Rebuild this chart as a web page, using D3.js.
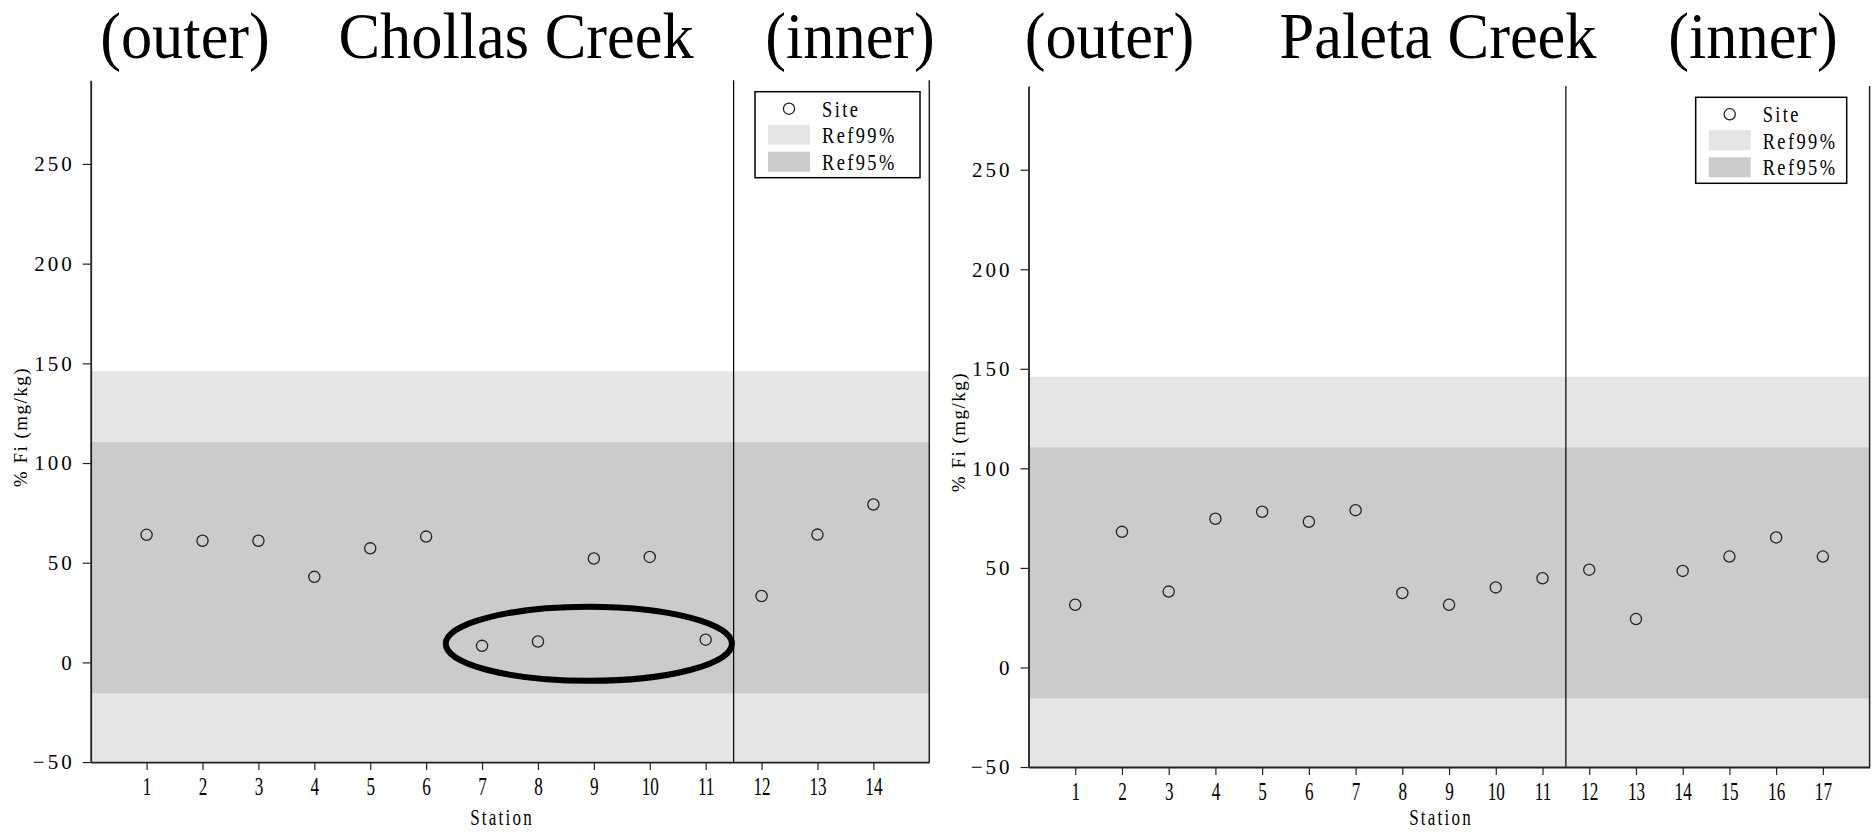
<!DOCTYPE html>
<html>
<head>
<meta charset="utf-8">
<script src="https://cdn.jsdelivr.net/npm/d3@7"></script>
<style>
  body { margin: 0; background: #fff; }
  svg text { font-family: "Liberation Serif", "Times New Roman", serif; fill: #000; }
</style>
</head>
<body>
<div id="chart"></div>
<script>
// ---- data ----
var chollasStations = [1, 2, 3, 4, 5, 6, 7, 8, 9, 10, 11, 12, 13, 14];
var chollasSite = [64.0, 61.0, 61.0, 42.9, 57.2, 63.1, 8.3, 10.5, 52.1, 52.9, 11.4, 33.3, 64.1, 79.2];

var paletaStations = [1, 2, 3, 4, 5, 6, 7, 8, 9, 10, 11, 12, 13, 14, 15, 16, 17];
var paletaSite = [31.5, 68.1, 38.1, 74.7, 78.2, 73.2, 79.0, 37.4, 31.5, 40.2, 44.8, 49.1, 24.3, 48.5, 55.7, 65.3, 55.7];

var ref99 = [-50, 146];      // light band
var ref95 = [-15.5, 110.5];  // dark band
var yTicks = [-50, 0, 50, 100, 150, 200, 250];
var yRange = [-50, 292];
var innerSplit = 11.5;       // outer | inner divider (between stations 11 and 12)
var legendLabels = ["Site", "Ref99%", "Ref95%"];

// circled stations 7, 8, 11 in Chollas Creek
var circledArea = { cx: 8.91, cy: 9.35, rx: 2.56, ry: 18.6 };

var col99 = "#e5e5e5", col95 = "#cbcbcb";

var svg = d3.select("#chart").append("svg")
	.attr("width", 1876)
	.attr("height", 833);

// squeeze text horizontally (the original font is narrow)
function squeeze(sel, sx) {
	sel.attr("transform", function () {
		var t = d3.select(this).attr("transform") || "";
		return t + " scale(" + sx + ",1)";
	});
}

function drawPanel(p) {
	var x = d3.scaleLinear().domain([0, p.xMax]).range([p.left, p.right]);
	var y = d3.scaleLinear().domain(yRange).range([p.bottom, p.top]);
	var g = svg.append("g");

	// bands
	g.append("rect")
		.attr("x", x(0)).attr("width", x(p.xMax) - x(0))
		.attr("y", y(ref99[1])).attr("height", y(ref99[0]) - y(ref99[1]))
		.attr("fill", col99);
	g.append("rect")
		.attr("x", x(0)).attr("width", x(p.xMax) - x(0))
		.attr("y", y(ref95[1])).attr("height", y(ref95[0]) - y(ref95[1]))
		.attr("fill", col95);

	// divider + right border
	g.append("line")
		.attr("x1", x(innerSplit)).attr("x2", x(innerSplit))
		.attr("y1", y(yRange[1])).attr("y2", y(yRange[0]))
		.attr("stroke", "#000").attr("stroke-width", 1.2);
	g.append("line")
		.attr("x1", x(p.xMax)).attr("x2", x(p.xMax))
		.attr("y1", y(yRange[1])).attr("y2", y(yRange[0]))
		.attr("stroke", "#222").attr("stroke-width", 1.5);

	// y axis
	var ya = g.append("g")
		.attr("transform", "translate(" + p.left + ",0)")
		.call(d3.axisLeft(y).tickValues(yTicks).tickSize(8).tickPadding(6).tickSizeOuter(0));
	ya.select(".domain").attr("stroke", "#222").attr("stroke-width", 1.8);
	ya.selectAll(".tick line").attr("stroke", "#222").attr("stroke-width", 1.2);
	ya.selectAll(".tick text")
		.style("font-family", "Liberation Serif")
		.style("font-size", "21px")
		.style("letter-spacing", "3px")
		.attr("x", -16);

	// x axis
	var xa = g.append("g")
		.attr("transform", "translate(0," + p.bottom + ")")
		.call(d3.axisBottom(x).tickValues(p.stations).tickFormat(d3.format("d")).tickSize(8).tickPadding(4).tickSizeOuter(0));
	xa.select(".domain").attr("stroke", "#222").attr("stroke-width", 1.8);
	xa.selectAll(".tick line").attr("stroke", "#222").attr("stroke-width", 1.2);
	xa.selectAll(".tick text")
		.style("font-family", "Liberation Serif")
		.style("font-size", "26px")
		.attr("dy", "0.8em")
		.call(squeeze, 0.66);

	// axis titles
	g.append("text")
		.attr("transform", "translate(" + ((p.left + p.right) / 2 - 8) + "," + Math.min(p.bottom + 64, 825) + ") scale(0.74,1)")
		.attr("text-anchor", "middle")
		.style("font-size", "23px")
		.style("letter-spacing", "3px")
		.text("Station");
	g.append("text")
		.attr("transform", "translate(" + (p.left - 64) + "," + p.ylabelY + ") rotate(-90)")
		.attr("text-anchor", "middle")
		.style("font-size", "19px")
		.style("letter-spacing", "1.5px")
		.text("% Fi (mg/kg)");

	// points
	g.selectAll(".dot")
		.data(p.values)
		.enter().append("circle")
		.attr("class", "dot")
		.attr("cx", function (d, i) { return x(p.stations[i]); })
		.attr("cy", function (d) { return y(d); })
		.attr("r", 5.6)
		.attr("fill", "none")
		.attr("stroke", "#222")
		.attr("stroke-width", 1.3);

	// legend
	var lg = g.append("g").attr("transform", "translate(" + p.legX + "," + p.legY + ")");
	lg.append("rect")
		.attr("width", p.legW).attr("height", 86)
		.attr("fill", "#fff").attr("stroke", "#000").attr("stroke-width", 1.5);
	lg.append("circle")
		.attr("cx", 34).attr("cy", 17).attr("r", 5.6)
		.attr("fill", "none").attr("stroke", "#222").attr("stroke-width", 1.3);
	lg.append("rect").attr("x", 13).attr("y", 33).attr("width", 42).attr("height", 20).attr("fill", col99);
	lg.append("rect").attr("x", 13).attr("y", 60).attr("width", 42).attr("height", 20).attr("fill", col95);
	lg.selectAll(".ltxt")
		.data(legendLabels)
		.enter().append("text")
		.attr("class", "ltxt")
		.attr("transform", function (d, i) { return "translate(67," + (25 + i * 26.5) + ") scale(0.8,1)"; })
		.style("font-size", "23px")
		.style("letter-spacing", "3px")
		.text(function (d) { return d; });

	// titles
	svg.selectAll(null)
		.data(p.titles)
		.enter().append("text")
		.attr("transform", function (d) { return "translate(" + d.x + ",58) scale(0.96,1)"; })
		.attr("text-anchor", "middle")
		.style("font-size", "65px")
		.text(function (d) { return d.t; });

	return { g: g, x: x, y: y };
}

var left = drawPanel({
	left: 90.7, right: 929.3, top: 80.2, bottom: 762.1, xMax: 15,
	stations: chollasStations, values: chollasSite,
	legX: 755, legY: 91.7, legW: 165, ylabelY: 427,
	titles: [{ t: "(outer)", x: 185 }, { t: "Chollas Creek", x: 516 }, { t: "(inner)", x: 850 }]
});

drawPanel({
	left: 1028.5, right: 1869.6, top: 86.1, bottom: 767, xMax: 18,
	stations: paletaStations, values: paletaSite,
	legX: 1695.7, legY: 97.3, legW: 151, ylabelY: 432,
	titles: [{ t: "(outer)", x: 1109.5 }, { t: "Paleta Creek", x: 1438 }, { t: "(inner)", x: 1753 }]
});

// ellipse around the low Chollas stations
left.g.append("ellipse")
	.attr("cx", left.x(circledArea.cx))
	.attr("cy", left.y(circledArea.cy))
	.attr("rx", left.x(circledArea.cx + circledArea.rx) - left.x(circledArea.cx))
	.attr("ry", left.y(circledArea.cy) - left.y(circledArea.cy + circledArea.ry))
	.attr("fill", "none")
	.attr("stroke", "#000")
	.attr("stroke-width", 6);
</script>
</body>
</html>
